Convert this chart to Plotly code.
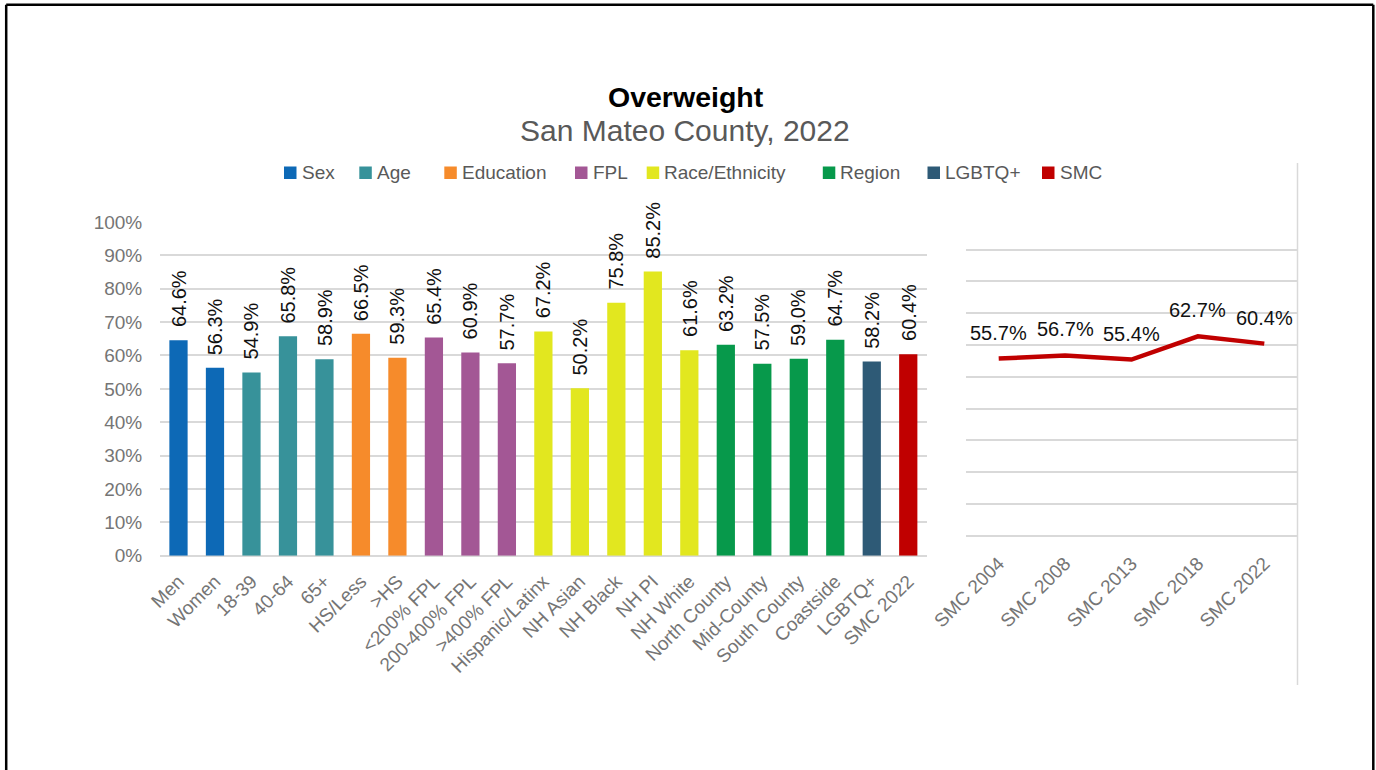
import plotly.graph_objects as go

# ---- data ----
categories = ["Men", "Women", "18-39", "40-64", "65+", "HS/Less", ">HS",
              "<200% FPL", "200-400% FPL", ">400% FPL", "Hispanic/Latinx",
              "NH Asian", "NH Black", "NH PI", "NH White", "North County",
              "Mid-County", "South County", "Coastside", "LGBTQ+", "SMC 2022"]
values = [64.6, 56.3, 54.9, 65.8, 58.9, 66.5, 59.3, 65.4, 60.9, 57.7, 67.2,
          50.2, 75.8, 85.2, 61.6, 63.2, 57.5, 59.0, 64.7, 58.2, 60.4]
groups = ["Sex", "Sex", "Age", "Age", "Age", "Education", "Education",
          "FPL", "FPL", "FPL", "Race/Ethnicity", "Race/Ethnicity",
          "Race/Ethnicity", "Race/Ethnicity", "Race/Ethnicity", "Region",
          "Region", "Region", "Region", "LGBTQ+", "SMC"]

group_names = ["Sex", "Age", "Education", "FPL", "Race/Ethnicity",
               "Region", "LGBTQ+", "SMC"]
group_colors = ["#0D69B6", "#37929A", "#F68B2B", "#A35795", "#E2E71F",
                "#07994B", "#2E5A76", "#C00000"]

trend_years = ["SMC 2004", "SMC 2008", "SMC 2013", "SMC 2018", "SMC 2022"]
trend_values = [55.7, 56.7, 55.4, 62.7, 60.4]

y_ticks = list(range(0, 101, 10))

# ---- layout helpers (pixel -> paper coordinates) ----
W, H = 1376, 770


def px(x):
    return x / W


def py(y):
    return 1 - y / H


FONT = "Liberation Sans, Arial, sans-serif"
GRID = "#D9D9D9"
TICK_COLOR = "#757575"

fig = go.Figure()

# bars, one trace per group so each group carries its own colour
color_of = dict(zip(group_names, group_colors))
for g in group_names:
    xs = [c for c, gg in zip(categories, groups) if gg == g]
    ys = [v for v, gg in zip(values, groups) if gg == g]
    fig.add_trace(go.Bar(x=xs, y=ys, name=g, marker_color=color_of[g],
                         marker_line_width=0, showlegend=False,
                         xaxis="x", yaxis="y"))

# trend line
fig.add_trace(go.Scatter(x=trend_years, y=trend_values, mode="lines",
                         line=dict(color="#C00000", width=4.5),
                         showlegend=False, xaxis="x2", yaxis="y2"))

annotations = []

# value labels above bars (rotated)
for c, v in zip(categories, values):
    annotations.append(dict(x=c, y=v, xref="x", yref="y",
                            text=f"{v:.1f}%", textangle=-90,
                            xanchor="center", yanchor="bottom", yshift=11,
                            showarrow=False,
                            font=dict(family=FONT, size=20, color="#111111")))

# value labels above trend points
for c, v in zip(trend_years, trend_values):
    annotations.append(dict(x=c, y=v, xref="x2", yref="y2",
                            text=f"{v:.1f}%", xanchor="center",
                            yanchor="middle", yshift=26, showarrow=False,
                            font=dict(family=FONT, size=20, color="#111111")))

# title and subtitle
annotations.append(dict(x=px(685.5), y=py(97.3), xref="paper", yref="paper",
                        text="<b>Overweight</b>", showarrow=False,
                        xanchor="center", yanchor="middle",
                        font=dict(family=FONT, size=28.5, color="#000000")))
annotations.append(dict(x=px(685), y=py(130.6), xref="paper", yref="paper",
                        text="San Mateo County, 2022", showarrow=False,
                        xanchor="center", yanchor="middle",
                        font=dict(family=FONT, size=30, color="#595959")))

# legend: coloured square + label for every group
shapes = []
legend_x = [284, 359.3, 444.3, 575, 646.7, 822.8, 927.5, 1042]
for name, col, lx in zip(group_names, group_colors, legend_x):
    shapes.append(dict(type="rect", xref="paper", yref="paper",
                       x0=px(lx), x1=px(lx + 12.5), y0=py(179), y1=py(166.5),
                       fillcolor=col, line_width=0))
    annotations.append(dict(x=px(lx + 15.5), y=py(172.9), xref="paper",
                            yref="paper", text=name, showarrow=False,
                            xanchor="left", yanchor="middle",
                            font=dict(family=FONT, size=19, color="#595959")))

# light vertical rule at the right of the trend panel
shapes.append(dict(type="line", xref="paper", yref="paper",
                   x0=px(1297.5), x1=px(1297.5), y0=py(685), y1=py(163),
                   line=dict(color=GRID, width=1.5)))

# page frame (top, left, right)
shapes.append(dict(type="line", xref="paper", yref="paper",
                   x0=px(6.2), x1=px(6.2), y0=0, y1=py(4.8),
                   line=dict(color="#000000", width=2.5)))
shapes.append(dict(type="line", xref="paper", yref="paper",
                   x0=px(6.2), x1=px(1373.3), y0=py(4.8), y1=py(4.8),
                   line=dict(color="#000000", width=2.5)))
shapes.append(dict(type="line", xref="paper", yref="paper",
                   x0=px(1373.3), x1=px(1373.3), y0=0, y1=py(4.8),
                   line=dict(color="#000000", width=2.5)))

tick_font = dict(family=FONT, size=19, color=TICK_COLOR)

fig.update_layout(
    width=W, height=H,
    margin=dict(l=0, r=0, t=0, b=0, pad=0, autoexpand=False),
    paper_bgcolor="white", plot_bgcolor="white",
    barmode="relative", bargap=0.5,
    showlegend=False,
    xaxis=dict(domain=[px(160.25), px(926.5)], type="category",
               categoryorder="array", categoryarray=categories,
               tickangle=-45, tickfont=tick_font, showgrid=False,
               showline=False, zeroline=False, ticks="",
               ticklabelstandoff=10, anchor="y", automargin=False),
    yaxis=dict(domain=[py(555.7), py(222)], range=[0, 100],
               tickvals=y_ticks, ticktext=[f"{t}%" for t in y_ticks],
               tickfont=tick_font, showgrid=True, gridcolor=GRID,
               gridwidth=1.6, zeroline=True, zerolinecolor=GRID,
               zerolinewidth=1.6, showline=False, ticks="",
               ticklabelstandoff=17, anchor="x", automargin=False),
    xaxis2=dict(domain=[px(965.5), px(1297.5)], type="category",
                categoryorder="array", categoryarray=trend_years,
                range=[-0.5, 4.5], tickangle=-45, tickfont=tick_font,
                showgrid=False, showline=False, zeroline=False, ticks="",
                ticklabelstandoff=12, anchor="y2", automargin=False),
    yaxis2=dict(domain=[py(535.7), py(217.7)], range=[0, 100],
                tickvals=y_ticks, showticklabels=False, showgrid=True,
                gridcolor=GRID, gridwidth=1.6, zeroline=True,
                zerolinecolor=GRID, zerolinewidth=1.6, showline=False,
                ticks="", anchor="x2", automargin=False),
    annotations=annotations,
    shapes=shapes,
)

fig.write_html("out.html")
